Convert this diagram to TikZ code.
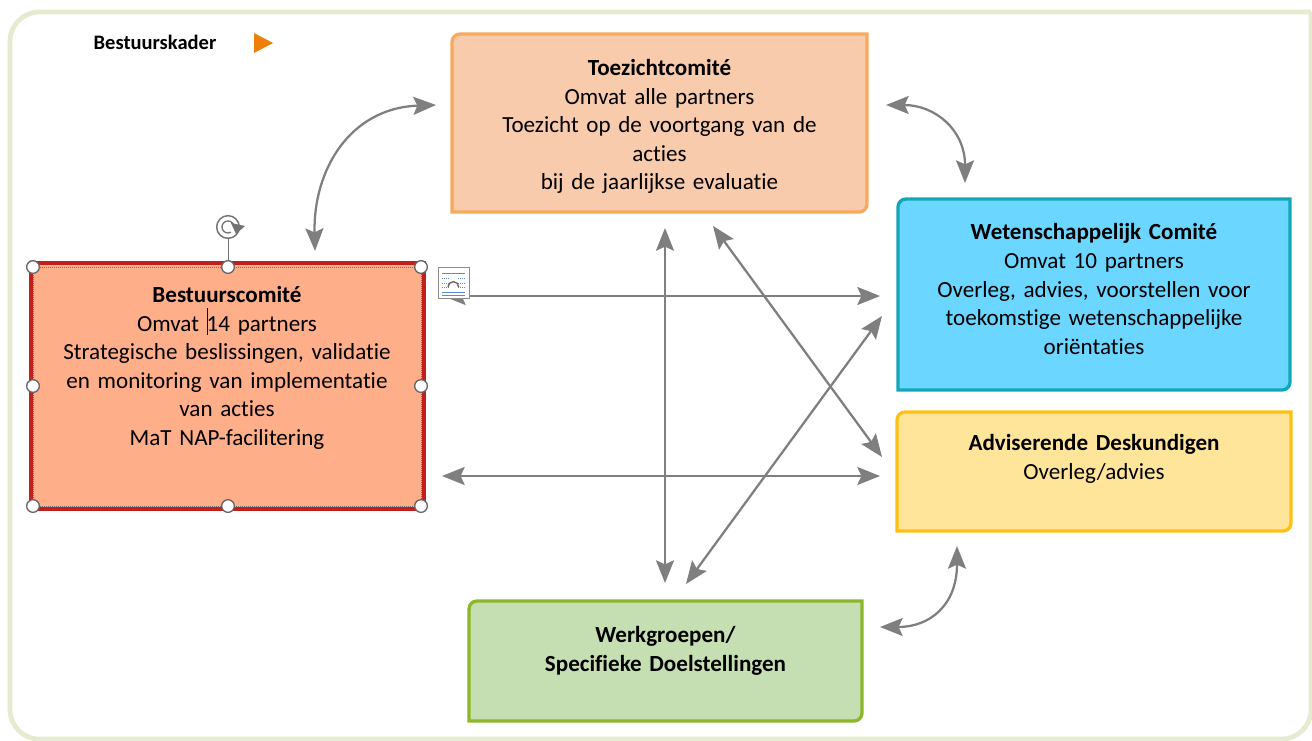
\documentclass[tikz,border=0pt]{standalone}
\usepackage{fontspec}
\setmainfont{Carlito}[Ligatures=NoCommon]
\usetikzlibrary{arrows.meta}
\definecolor{frameC}{HTML}{E4EBD1}
\definecolor{arrowC}{HTML}{7F7F7F}
\definecolor{markC}{HTML}{F07F09}
\definecolor{toeL}{HTML}{F7A95E}\definecolor{toeF}{HTML}{F7CBAC}
\definecolor{wetL}{HTML}{12A7B7}\definecolor{wetF}{HTML}{6BD6FF}
\definecolor{advL}{HTML}{FFC015}\definecolor{advF}{HTML}{FFE599}
\definecolor{werL}{HTML}{8DB62A}\definecolor{werF}{HTML}{C5DFB3}
\definecolor{besL}{HTML}{C2201C}\definecolor{besF}{HTML}{FFAE8A}
\definecolor{iconB}{HTML}{5B8BD0}
\tikzset{
  panel/.style={inner sep=0pt,minimum width=#1,text width=#1,align=center,font=\fontsize{17.3}{21.4}\selectfont,text=black},
  edge/.style={line width=2.5pt},
  link/.style={draw=arrowC,line width=1.7pt,{Stealth[length=17pt,width=13.5pt,inset=3pt]}-{Stealth[length=17pt,width=13.5pt,inset=3pt]}},
  handle/.style={circle,draw=black!60,fill=white,line width=1pt,minimum size=9.5pt,inner sep=0pt},
}
\begin{document}
\begin{tikzpicture}[x=.75pt,y=-.75pt]
\useasboundingbox (0,0) rectangle (1312,740);
% frame
\draw[frameC,line width=3.6pt] (1311,12) -- (40,12) [rounded corners=22pt] -- (10,12) -- (10,739) -- (1311,739) -- (1311,12);
% title
\node[inner sep=0pt,font=\fontsize{15.4}{17}\selectfont\bfseries] (title) at (155,42.5) {Bestuurskader};
\fill[markC] (254,33) -- (273,43) -- (254,53) -- cycle;
% anchors for boxes
\coordinate (tTL) at (452,34);\coordinate (tBR) at (867,212);
\coordinate (wTL) at (898,199);\coordinate (wBR) at (1290,390);
\coordinate (aTL) at (897,412);\coordinate (aBR) at (1291,531);
\coordinate (gTL) at (469,601);\coordinate (gBR) at (862,721);
% boxes (two opposite corners rounded)
\foreach \p/\q/\l/\f in {tTL/tBR/toeL/toeF,wTL/wBR/wetL/wetF,aTL/aBR/advL/advF,gTL/gBR/werL/werF}{
  \draw[edge,draw=\l,fill=\f] (\p |- \q) -- ([shift={(0,8)}]\p) arc[start angle=180,end angle=90,radius=6pt]
    -- (\q |- \p) -- ([shift={(0,-8)}]\q) arc[start angle=0,end angle=-90,radius=6pt] -- cycle;
}
\draw[line width=2.4pt,draw=besL,fill=besF] (31,263) rectangle (424,509);
\draw[black!55,line width=.5pt,densely dotted] (33,267) rectangle (421,506);
% texts
\node[panel=310pt] (toez) at (659.5,126.5) {\textbf{Toezichtcomité}\\Omvat alle partners\\Toezicht op de voortgang van de\\acties\\bij de jaarlijkse evaluatie};
\node[panel=290pt] (wet) at (1094,289) {\textbf{Wetenschappelijk Comité}\\Omvat 10 partners\\Overleg, advies, voorstellen voor\\toekomstige wetenschappelijke\\oriëntaties};
\node[panel=290pt] (adv) at (1094,459) {\textbf{Adviserende Deskundigen}\\Overleg/advies};
\node[panel=290pt] (wg) at (665.5,651) {\textbf{Werkgroepen/}\\\textbf{Specifieke Doelstellingen}};
\node[panel=290pt] (best) at (227,368) {\textbf{Bestuurscomité}\\Omvat 14 partners\\Strategische beslissingen, validatie\\en monitoring van implementatie\\van acties\\MaT NAP-facilitering};
\draw[black!70!blue,line width=.5pt] (207,308) -- (207,335);
% connector ends
\coordinate (c1a) at (315,251);\coordinate (c1b) at (436,105);
\coordinate (c2a) at (886,105);\coordinate (c2b) at (965,183);
\coordinate (c3a) at (880,627);\coordinate (c3b) at (957,546);
\coordinate (v1) at (665,228);\coordinate (v2) at (665,583);
\coordinate (h1) at (443,296);\coordinate (h2) at (880,296);
\coordinate (h3) at (442,476);\coordinate (h4) at (880,476);
\coordinate (d1) at (713,226);\coordinate (d2) at (882,457);
\coordinate (d3) at (686,584);\coordinate (d4) at (882,316);
\draw[link] (c1a) .. controls (313,170) and (350,108) .. (c1b);
\draw[link] (c2a) .. controls (935,105) and (965,130) .. (c2b);
\draw[link] (c3a) .. controls (930,627) and (957,605) .. (c3b);
\draw[link] (v1) -- (v2);
\draw[link] (h1) -- (h2);
\draw[link] (h3) -- (h4);
\draw[link] (d1) -- (d2);
\draw[link] (d3) -- (d4);
% wrap icon
\draw[black!45,fill=white,line width=.6pt] (438,267) rectangle (469,298);
\foreach \yy in {273,292,295}{\draw[iconB,line width=.6pt] (442,\yy) -- (465,\yy);}
\foreach \yy in {278,283,287}{\draw[iconB,line width=.6pt,densely dotted] (442,\yy) -- (449,\yy) (458,\yy) -- (465,\yy);}
\draw[black!60,line width=1pt] (448,287) arc[start angle=180,end angle=0,radius=4pt];
% handles
\node[handle] (hT) at (228,267) {};
\node[handle] (hTL) at (33,267) {};
\node[handle] (hTR) at (421,267) {};
\node[handle] (hL) at (33,386) {};
\node[handle] (hR) at (421,386) {};
\node[handle] (hBL) at (33,506) {};
\node[handle] (hB) at (228,506) {};
\node[handle] (hBR) at (421,506) {};
\node[circle,draw=black!55,line width=1.1pt,minimum size=17pt,inner sep=0pt] (rot) at (228,227) {};
\draw[black!55,line width=.7pt] (rot) -- (hT);
\draw[black!55,line width=1pt] (234,227) arc[start angle=0,end angle=300,radius=4.5pt];
\fill[black!55] (231,223) -- (245,226) -- (236,234) -- cycle;
\end{tikzpicture}
\end{document}
